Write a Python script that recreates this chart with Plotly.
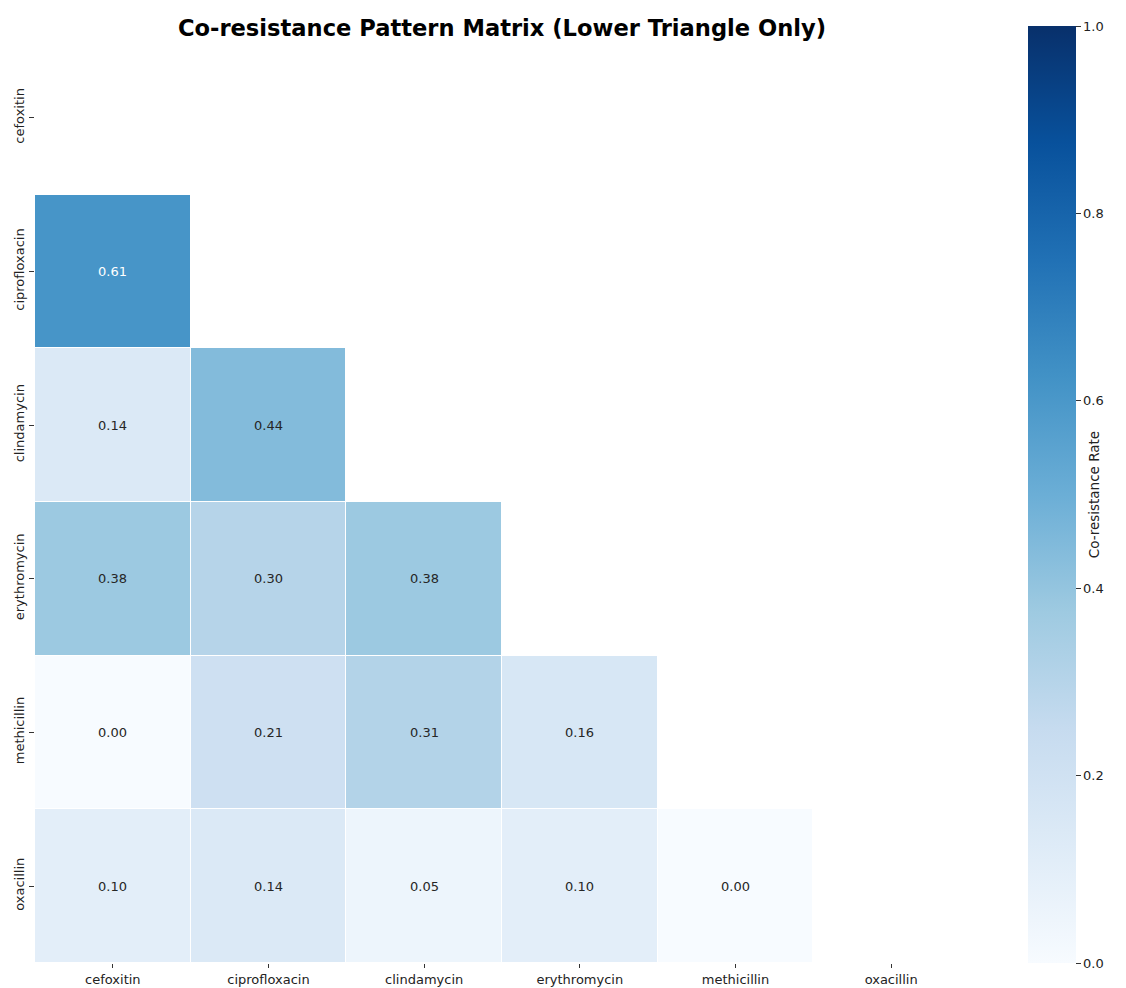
import plotly.graph_objects as go

# Antibiotics shown on both axes
drugs = ["cefoxitin", "ciprofloxacin", "clindamycin", "erythromycin", "methicillin", "oxacillin"]

# Lower-triangle co-resistance rates (row drug vs. column drug); upper part is masked
row_cefoxitin = [None, None, None, None, None, None]
row_ciprofloxacin = [0.61, None, None, None, None, None]
row_clindamycin = [0.14, 0.44, None, None, None, None]
row_erythromycin = [0.38, 0.30, 0.38, None, None, None]
row_methicillin = [0.00, 0.21, 0.31, 0.16, None, None]
row_oxacillin = [0.10, 0.14, 0.05, 0.10, 0.00, None]

z = [row_cefoxitin, row_ciprofloxacin, row_clindamycin,
     row_erythromycin, row_methicillin, row_oxacillin]

colorbar_ticks = [0.0, 0.2, 0.4, 0.6, 0.8, 1.0]

# matplotlib "Blues"
blues = [
    [0.0, "#f7fbff"], [0.125, "#deebf7"], [0.25, "#c6dbef"], [0.375, "#9ecae1"],
    [0.5, "#6baed6"], [0.625, "#4292c6"], [0.75, "#2171b5"], [0.875, "#08519c"],
    [1.0, "#08306b"],
]

FONT = "DejaVu Sans"

fig = go.Figure(go.Heatmap(
    z=z, x=drugs, y=drugs,
    zmin=0, zmax=1,
    colorscale=blues,
    xgap=1, ygap=1,
    hoverongaps=False,
    colorbar=dict(
        title=dict(text="Co-resistance Rate", side="right",
                   font=dict(family=FONT, size=13.5, color="#222")),
        tickvals=colorbar_ticks,
        ticktext=[f"{t:.1f}" for t in colorbar_ticks],
        ticks="outside", ticklen=5, tickcolor="#333",
        tickfont=dict(family=FONT, size=13, color="#222"),
        thickness=48, thicknessmode="pixels",
        len=937, lenmode="pixels",
        x=1.063, xanchor="left",
        y=0, yanchor="bottom",
        ypad=0, xpad=0,
        outlinewidth=0,
    ),
))

# value labels inside each visible cell
annotations = []
for i, row in enumerate(z):
    for j, v in enumerate(row):
        if v is None:
            continue
        annotations.append(dict(
            x=drugs[j], y=drugs[i], text=f"{v:.2f}", showarrow=False,
            font=dict(family=FONT, size=13, color="white" if v > 0.55 else "#262626"),
        ))

fig.update_layout(
    width=1126, height=988,
    margin=dict(l=35, r=157, t=41, b=25),
    paper_bgcolor="white", plot_bgcolor="white",
    title=dict(text="<b>Co-resistance Pattern Matrix (Lower Triangle Only)</b>",
               x=(35 + 467) / 1126, xanchor="center", y=0.972, yanchor="middle",
               font=dict(family=FONT, size=22.6, color="black")),
    annotations=annotations,
    xaxis=dict(showgrid=False, zeroline=False, showline=False, automargin=False,
               ticks="outside", ticklen=4, tickcolor="#333",
               tickfont=dict(family=FONT, size=13, color="#222")),
    yaxis=dict(showgrid=False, zeroline=False, showline=False, automargin=False,
               autorange="reversed", tickangle=-90,
               ticks="outside", ticklen=5, tickcolor="#333",
               tickfont=dict(family=FONT, size=13, color="#222")),
)

fig.write_html("out.html")
